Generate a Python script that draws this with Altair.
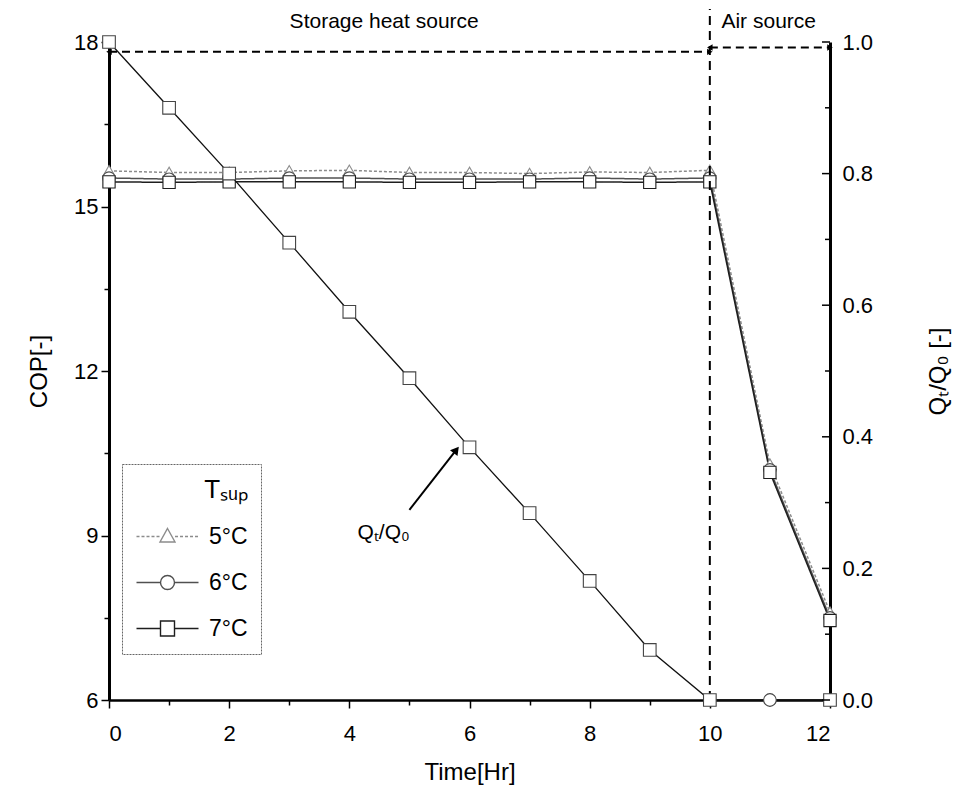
import altair as alt
import pandas as pd

# ---------------- data ----------------
hours = [0, 1, 2, 3, 4, 5, 6, 7, 8, 9, 10, 11, 12]
series_labels = ["5°C", "6°C", "7°C"]
cop_5c = [15.65, 15.62, 15.62, 15.65, 15.66, 15.62, 15.62, 15.6, 15.63, 15.62, 15.66, 10.3, 7.6]
cop_6c = [15.52, 15.5, 15.5, 15.52, 15.52, 15.5, 15.5, 15.5, 15.52, 15.5, 15.52, 10.2, 7.5]
cop_7c = [15.45, 15.44, 15.45, 15.45, 15.45, 15.44, 15.44, 15.45, 15.45, 15.44, 15.45, 10.15, 7.45]
q_ratio = [1.0, 0.9, 0.8, 0.695, 0.59, 0.489, 0.384, 0.284, 0.181, 0.076, 0.0, 0.0, 0.0]
q_marker = ["square"] * 11 + ["circle", "square"]

hour_ticks = [0, 1, 2, 3, 4, 5, 6, 7, 8, 9, 10, 11, 12]
cop_ticks = [6, 7.5, 9, 10.5, 12, 13.5, 15, 16.5, 18]
q_major_ticks = [0.0, 0.2, 0.4, 0.6, 0.8, 1.0]
q_minor_ticks = [0.1, 0.3, 0.5, 0.7, 0.9]

# annotation positions (data units)
phase_boundary_hour = [10]
storage_arrow = {"h0": [0], "h1": [10], "cop": [17.82]}
air_arrow = {"h0": [10], "h1": [12], "cop": [17.9]}
boundary_line = {"c0": [6], "c1": [18.6]}
phase_labels = {"text": ["Storage heat source", "Air source"], "hour": [4.58, 10.98], "cop": [18.36, 18.36]}
q_arrow = {"h0": [5.0], "q0": [0.289], "h1": [5.78], "q1": [0.38]}
q_label = {"text": ["Qₜ/Q₀"], "hour": [4.57], "q": [0.254]}

FONT = "Liberation Sans"
colors = ["#8c8c8c", "#505050", "#1e1e1e"]
shapes = ["triangle-up", "circle", "square"]
dashes = [[3, 2], [1, 0], [1, 0]]


# legend symbols: line + marker drawn as one custom path (units of sqrt(size)/2)
def dashed(x0, x1, d=0.3, g=0.2):
    parts, x = [], x0
    while x < x1:
        parts.append(f"M{x:.2f},0L{min(x + d, x1):.2f},0")
        x += d + g
    return "".join(parts)


tri = "M0,-0.8L0.75,0.55L-0.75,0.55Z"
circ = "M-0.7,0A0.7,0.7 0 1,0 0.7,0A0.7,0.7 0 1,0 -0.7,0Z"
sq = "M-0.7,-0.75L0.7,-0.75L0.7,0.75L-0.7,0.75Z"
legend_paths = [
    dashed(-3.1, -0.75) + dashed(0.75, 3.1) + tri,
    "M-3.1,0L-0.7,0M0.7,0L3.1,0" + circ,
    "M-3.1,0L-0.7,0M0.7,0L3.1,0" + sq,
]

# ---------------- encodings ----------------
x_scale = alt.Scale(domain=[0, 12], nice=False, zero=False)
cop_scale = alt.Scale(domain=[6, 18], nice=False, zero=False)
q_scale = alt.Scale(domain=[0, 1], nice=False, zero=False)

x_axis = alt.Axis(
    title="Time[Hr]", values=hour_ticks,
    labelExpr="datum.value % 2 == 0 ? datum.label : ''",
    tickSize={"condition": {"test": "datum.value % 2 == 0", "value": 8}, "value": 5},
    domainWidth=2.5, tickWidth=1.5, labelPadding=15, labelFontSize=22,
    titleFontSize=24, titlePadding=16, grid=False,
)
cop_axis = alt.Axis(
    title="COP[-]", values=cop_ticks,
    labelExpr="datum.value % 3 == 0 ? datum.label : ''",
    tickSize={"condition": {"test": "datum.value % 3 == 0", "value": 8}, "value": 5},
    domainWidth=3, tickWidth=1.5, labelPadding=3, labelFontSize=22,
    titleFontSize=24, titlePadding=22, grid=False,
)
q_axis = alt.Axis(
    title="Qₜ/Q₀ [-]", orient="right", values=q_major_ticks, format=".1f",
    ticks=False, domainWidth=3, labelPadding=12, labelFontSize=22,
    titleFontSize=24, titleAngle=270, titlePadding=78, grid=False,
)


def X(field="hour"):
    return alt.X(f"{field}:Q", scale=x_scale, axis=x_axis)


def YC(field="cop"):
    return alt.Y(f"{field}:Q", scale=cop_scale, axis=cop_axis)


def YQ(field="q"):
    return alt.Y(f"{field}:Q", scale=q_scale, axis=q_axis)


# ---------------- COP layers ----------------
cop_layers = []
for lab, vals, col, shp, dsh in zip(series_labels, [cop_5c, cop_6c, cop_7c], colors, shapes, dashes):
    df = pd.DataFrame({"hour": hours, "cop": vals})
    base = alt.Chart(df).encode(x=X(), y=YC())
    cop_layers.append(base.mark_line(color=col, strokeWidth=1.5, strokeDash=dsh))
for lab, vals, col, shp, dsh in zip(series_labels, [cop_5c, cop_6c, cop_7c], colors, shapes, dashes):
    df = pd.DataFrame({"hour": hours, "cop": vals})
    base = alt.Chart(df).encode(x=X(), y=YC())
    cop_layers.append(base.mark_point(shape=shp, size=150, filled=True, fill="white",
                                      stroke=col, strokeWidth=1.1, opacity=1))

legend_df = pd.DataFrame({"hour": [0, 0, 0], "cop": [6, 6, 6], "Tsup": series_labels})
legend_def = alt.Legend(
    title="Tₛᵤₚ", orient="none", legendX=13, legendY=422,
    titleFontSize=26, titleFont=FONT, titleFontWeight="normal", titleAnchor="end",
    titlePadding=22,
    labelFontSize=23, labelFont=FONT, symbolSize=400, symbolStrokeWidth=1.4,
    symbolOpacity=1, symbolOffset=21, labelOffset=30, rowPadding=22, padding=13,
    strokeColor="#666666", fillColor="white",
)
legend_layer = (
    alt.Chart(legend_df).transform_filter("false")
    .mark_point(filled=False, strokeWidth=1.4, opacity=1)
    .encode(
        x=X(), y=YC(),
        color=alt.Color("Tsup:N", scale=alt.Scale(domain=series_labels, range=colors), legend=legend_def),
        shape=alt.Shape("Tsup:N", scale=alt.Scale(domain=series_labels, range=legend_paths), legend=legend_def),
    )
)

# dashed phase annotations
st_df = pd.DataFrame({"hour": storage_arrow["h0"], "hour2": storage_arrow["h1"], "cop": storage_arrow["cop"]})
ai_df = pd.DataFrame({"hour": air_arrow["h0"], "hour2": air_arrow["h1"], "cop": air_arrow["cop"]})
arrow_lines = [
    alt.Chart(d).mark_rule(color="black", strokeWidth=2, strokeDash=[8, 5])
    .encode(x=X(), x2="hour2:Q", y=YC())
    for d in (st_df, ai_df)
]
heads = []
for d in (st_df, ai_df):
    heads.append(alt.Chart(d).mark_point(shape="triangle-left", filled=True, color="black", size=40, opacity=1)
                 .encode(x=X(), y=YC()))
    heads.append(alt.Chart(d).mark_point(shape="triangle-right", filled=True, color="black", size=40, opacity=1)
                 .encode(x=X("hour2"), y=YC()))

bd_df = pd.DataFrame({"hour": phase_boundary_hour, "cop": boundary_line["c0"], "cop2": boundary_line["c1"]})
boundary = alt.Chart(bd_df).mark_rule(color="black", strokeWidth=2, strokeDash=[9, 6]).encode(
    x=X(), y=YC(), y2="cop2:Q")

pl_df = pd.DataFrame(phase_labels)
phase_text = alt.Chart(pl_df).mark_text(font=FONT, fontSize=21, color="black").encode(
    x=X(), y=YC(), text="text:N")

layer_cop = alt.layer(*cop_layers, *arrow_lines, *heads, boundary, phase_text, legend_layer)

# ---------------- Q/Q0 layers ----------------
q_df = pd.DataFrame({"hour": hours, "q": q_ratio, "marker": q_marker})
q_line = alt.Chart(q_df).mark_line(color="#111111", strokeWidth=1.3).encode(x=X(), y=YQ())
q_pts = [
    alt.Chart(q_df).transform_filter(f"datum.marker == '{m}'")
    .mark_point(shape=m, size=160, filled=True, fill="white", stroke="#444444", strokeWidth=1.1, opacity=1)
    .encode(x=X(), y=YQ())
    for m in ("square", "circle")
]

qa_df = pd.DataFrame({"hour": q_arrow["h0"], "q": q_arrow["q0"], "hour2": q_arrow["h1"], "q2": q_arrow["q1"]})
q_arrow_line = alt.Chart(qa_df).mark_rule(color="black", strokeWidth=2).encode(
    x=X(), y=YQ(), x2="hour2:Q", y2="q2:Q")
q_arrow_head = alt.Chart(qa_df).mark_point(shape="triangle-up", angle=38, filled=True, color="black",
                                           size=90, opacity=1).encode(x=X("hour2"), y=YQ("q2"))
ql_df = pd.DataFrame(q_label)
q_text = alt.Chart(ql_df).mark_text(font=FONT, fontSize=21, color="black").encode(
    x=X(), y=YQ(), text="text:N")

# inward ticks on the right axis
tk_major = pd.DataFrame({"hour": [12] * len(q_major_ticks), "q": q_major_ticks})
tk_minor = pd.DataFrame({"hour": [12] * len(q_minor_ticks), "q": q_minor_ticks})
rt_major = alt.Chart(tk_major).mark_rule(color="black", strokeWidth=1.5, x2Offset=-8).encode(
    x=X(), x2="hour:Q", y=YQ())
rt_minor = alt.Chart(tk_minor).mark_rule(color="black", strokeWidth=1.5, x2Offset=-5).encode(
    x=X(), x2="hour:Q", y=YQ())

layer_q = alt.layer(q_line, *q_pts, q_arrow_line, q_arrow_head, q_text, rt_major, rt_minor)

chart = (
    alt.layer(layer_cop, layer_q)
    .resolve_scale(y="independent")
    .properties(
        width=721, height=658,
        autosize=alt.AutoSizeParams(type="none"),
        padding={"left": 109, "top": 42, "right": 146, "bottom": 109},
        background="white",
    )
    .configure_view(stroke=None)
    .configure_axis(labelFont=FONT, titleFont=FONT, labelColor="black", titleColor="black",
                    domainColor="black", tickColor="black", titleFontWeight="normal")
    .configure_legend(strokeDash=[2, 1])
)

chart.save("out.html", embed_options={"renderer": "svg", "actions": False})
